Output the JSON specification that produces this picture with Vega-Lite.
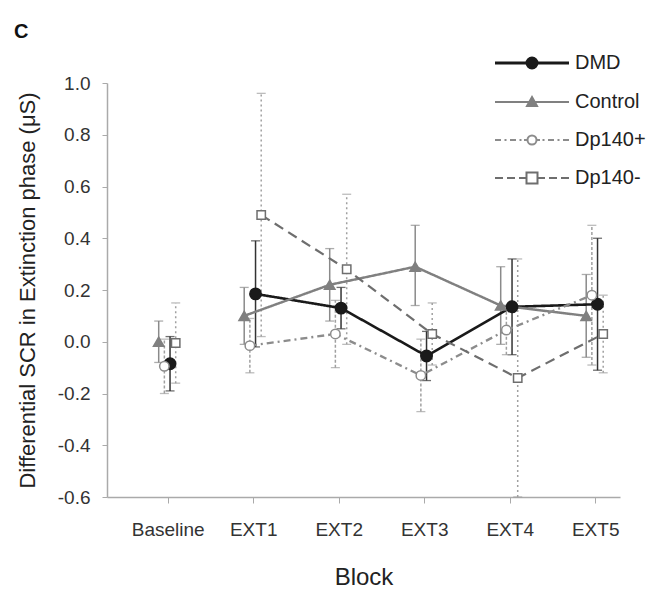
{
  "$schema": "https://vega.github.io/schema/vega-lite/v6.json",
  "width": 513,
  "height": 414,
  "autosize": {"type": "none"},
  "padding": {"left": 107, "top": 83, "right": 33, "bottom": 93},
  "background": "white",
  "title": {"text": "C", "anchor": "start", "frame": "group", "fontSize": 20, "fontWeight": "bold", "font": "Liberation Sans", "color": "#111", "dx": -93, "dy": -7},
  "config": {
    "font": "Liberation Sans",
    "view": {"stroke": null},
    "locale": {"number": {"decimal": ".", "thousands": ",", "grouping": [3], "currency": ["$", ""], "minus": "-"}}
  },
  "data": {
    "values": [
      {"Block": "Baseline", "Group": "DMD", "mean": -0.085, "lo": -0.19, "hi": 0.02},
      {"Block": "EXT1", "Group": "DMD", "mean": 0.185, "lo": -0.02, "hi": 0.39},
      {"Block": "EXT2", "Group": "DMD", "mean": 0.13, "lo": 0.05, "hi": 0.21},
      {"Block": "EXT3", "Group": "DMD", "mean": -0.055, "lo": -0.15, "hi": 0.04},
      {"Block": "EXT4", "Group": "DMD", "mean": 0.135, "lo": -0.05, "hi": 0.32},
      {"Block": "EXT5", "Group": "DMD", "mean": 0.145, "lo": -0.11, "hi": 0.4},
      {"Block": "Baseline", "Group": "Control", "mean": 0.0, "lo": -0.08, "hi": 0.08},
      {"Block": "EXT1", "Group": "Control", "mean": 0.1, "lo": -0.01, "hi": 0.21},
      {"Block": "EXT2", "Group": "Control", "mean": 0.22, "lo": 0.08, "hi": 0.36},
      {"Block": "EXT3", "Group": "Control", "mean": 0.29, "lo": 0.14, "hi": 0.45},
      {"Block": "EXT4", "Group": "Control", "mean": 0.14, "lo": -0.01, "hi": 0.29},
      {"Block": "EXT5", "Group": "Control", "mean": 0.1, "lo": -0.06, "hi": 0.26},
      {"Block": "Baseline", "Group": "Dp140+", "mean": -0.095, "lo": -0.2, "hi": 0.01},
      {"Block": "EXT1", "Group": "Dp140+", "mean": -0.015, "lo": -0.12, "hi": 0.09},
      {"Block": "EXT2", "Group": "Dp140+", "mean": 0.03, "lo": -0.1, "hi": 0.16},
      {"Block": "EXT3", "Group": "Dp140+", "mean": -0.13, "lo": -0.27, "hi": 0.01},
      {"Block": "EXT4", "Group": "Dp140+", "mean": 0.045, "lo": -0.05, "hi": 0.14},
      {"Block": "EXT5", "Group": "Dp140+", "mean": 0.18, "lo": -0.09, "hi": 0.45},
      {"Block": "Baseline", "Group": "Dp140-", "mean": -0.005, "lo": -0.16, "hi": 0.15},
      {"Block": "EXT1", "Group": "Dp140-", "mean": 0.49, "lo": 0.02, "hi": 0.96},
      {"Block": "EXT2", "Group": "Dp140-", "mean": 0.28, "lo": -0.01, "hi": 0.57},
      {"Block": "EXT3", "Group": "Dp140-", "mean": 0.03, "lo": -0.09, "hi": 0.15},
      {"Block": "EXT4", "Group": "Dp140-", "mean": -0.14, "lo": -0.6, "hi": 0.32},
      {"Block": "EXT5", "Group": "Dp140-", "mean": 0.03, "lo": -0.12, "hi": 0.18}
    ]
  },
  "encoding": {
    "x": {
      "field": "Block", "type": "nominal",
      "scale": {"type": "point", "domain": ["Baseline", "EXT1", "EXT2", "EXT3", "EXT4", "EXT5"], "padding": 0.5, "align": 0.71},
      "axis": {"title": "Block", "titleFontSize": 24, "titleFontWeight": "normal", "titleColor": "#222", "titlePadding": 26, "labelFontSize": 19, "labelColor": "#333", "labelAngle": 0, "labelPadding": 17, "tickSize": 6, "tickColor": "#aaa", "domainColor": "#aaa", "domainWidth": 1.5, "grid": false}
    },
    "xOffset": {
      "field": "Group", "type": "nominal",
      "scale": {"type": "point", "domain": ["Control", "Dp140+", "DMD", "Dp140-"], "range": [-9, 8], "padding": 0}
    }
  },
  "layer": [
    {
      "mark": {"type": "rule", "strokeWidth": 1.5},
      "encoding": {
        "y": {"field": "lo", "type": "quantitative",
          "scale": {"domain": [-0.6, 1.0], "nice": false, "zero": false},
          "axis": {"title": "Differential SCR in Extinction phase (μS)", "titleFontSize": 22, "titleFontWeight": "normal", "titleColor": "#222", "titlePadding": 18, "values": [-0.6, -0.4, -0.2, 0.0, 0.2, 0.4, 0.6, 0.8, 1.0], "format": ".1f", "labelFontSize": 19, "labelColor": "#333", "labelPadding": 12, "tickSize": 5, "tickColor": "#aaa", "domainColor": "#aaa", "domainWidth": 1.5, "grid": false}},
        "y2": {"field": "hi"},
        "stroke": {"field": "Group", "type": "nominal", "legend": null,
          "scale": {"domain": ["DMD", "Control", "Dp140+", "Dp140-"], "range": ["#333333", "#8a8a8a", "#a0a0a0", "#a0a0a0"]}},
        "strokeDash": {"field": "Group", "type": "nominal", "legend": null,
          "scale": {"domain": ["DMD", "Control", "Dp140+", "Dp140-"], "range": [[1, 0], [1, 0], [3, 2], [2, 3]]}}
      }
    },
    {
      "mark": {"type": "tick", "size": 9, "thickness": 1.3},
      "encoding": {
        "y": {"field": "lo", "type": "quantitative"},
        "fill": {"field": "Group", "type": "nominal", "legend": null,
          "scale": {"domain": ["DMD", "Control", "Dp140+", "Dp140-"], "range": ["#333333", "#8a8a8a", "#a0a0a0", "#a0a0a0"]}}
      }
    },
    {
      "mark": {"type": "tick", "size": 9, "thickness": 1.3},
      "encoding": {
        "y": {"field": "hi", "type": "quantitative"},
        "fill": {"field": "Group", "type": "nominal", "legend": null,
          "scale": {"domain": ["DMD", "Control", "Dp140+", "Dp140-"], "range": ["#333333", "#8a8a8a", "#a0a0a0", "#a0a0a0"]}}
      }
    },
    {
      "transform": [{"filter": "datum.Block !== 'Baseline'"}],
      "mark": {"type": "line"},
      "encoding": {
        "y": {"field": "mean", "type": "quantitative"},
        "stroke": {"field": "Group", "type": "nominal", "legend": null,
          "scale": {"domain": ["DMD", "Control", "Dp140+", "Dp140-"], "range": ["#1a1a1a", "#808080", "#8c8c8c", "#6e6e6e"]}},
        "strokeDash": {"field": "Group", "type": "nominal", "legend": null,
          "scale": {"domain": ["DMD", "Control", "Dp140+", "Dp140-"], "range": [[1, 0], [1, 0], [7, 4, 2, 4], [10, 6]]}},
        "strokeWidth": {"field": "Group", "type": "nominal", "legend": null,
          "scale": {"domain": ["DMD", "Control", "Dp140+", "Dp140-"], "range": [2.6, 2.2, 1.6, 2.0]}}
      }
    },
    {
      "mark": {"type": "point", "strokeWidth": 1.5, "opacity": 1},
      "encoding": {
        "y": {"field": "mean", "type": "quantitative"},
        "shape": {"field": "Group", "type": "nominal", "legend": null,
          "scale": {"domain": ["DMD", "Control", "Dp140+", "Dp140-"], "range": ["circle", "triangle-up", "circle", "square"]}},
        "size": {"field": "Group", "type": "nominal", "legend": null,
          "scale": {"domain": ["DMD", "Control", "Dp140+", "Dp140-"], "range": [130, 70, 55, 110]}},
        "fill": {"field": "Group", "type": "nominal", "legend": null,
          "scale": {"domain": ["DMD", "Control", "Dp140+", "Dp140-"], "range": ["#1a1a1a", "#808080", "#ffffff", "#ffffff"]}},
        "stroke": {"field": "Group", "type": "nominal", "legend": null,
          "scale": {"domain": ["DMD", "Control", "Dp140+", "Dp140-"], "range": ["#1a1a1a", "#808080", "#8c8c8c", "#6e6e6e"]}}
      }
    },
    {
      "mark": {"type": "point", "filled": true, "opacity": 0, "size": 400, "strokeWidth": 2},
      "encoding": {
        "y": {"field": "mean", "type": "quantitative"},
        "shape": {"field": "Group", "type": "nominal",
          "scale": {"domain": ["DMD", "Control", "Dp140+", "Dp140-"], "range": [
            "M-3.7,0H3.7M0.5,0A0.5,0.5,0,1,1,-0.5,0A0.5,0.5,0,1,1,0.5,0",
            "M-3.7,0H3.7M0,-0.5L0.5,0.4L-0.5,0.4Z",
            "M-3.7,0H-3.1M-2.75,0H-2.55M-2.2,0H-1.6M-1.25,0H-1.05M-0.8,0H-0.45M0.45,0H0.8M1.05,0H1.25M1.6,0H2.2M2.55,0H2.75M3.1,0H3.7M0.45,0A0.45,0.45,0,1,1,-0.45,0A0.45,0.45,0,1,1,0.45,0",
            "M-3.7,0H-2.9M-2.5,0H-1.7M-1.3,0H-0.55M0.55,0H1.3M1.7,0H2.5M2.9,0H3.7M-0.55,-0.55H0.55V0.55H-0.55Z"
          ]},
          "legend": {"title": null, "orient": "none", "legendX": 415, "legendY": -30, "labelFontSize": 20, "labelColor": "#222", "labelOffset": 33, "rowPadding": 18, "symbolStrokeWidth": 2, "symbolSize": 400,
            "encode": {"symbols": {"update": {
              "fill": {"signal": "datum.value === 'DMD' ? '#1a1a1a' : datum.value === 'Control' ? '#808080' : '#ffffff'"},
              "stroke": {"signal": "datum.value === 'DMD' ? '#1a1a1a' : datum.value === 'Control' ? '#808080' : datum.value === 'Dp140+' ? '#8c8c8c' : '#6e6e6e'"},
              "strokeWidth": {"signal": "datum.value === 'DMD' ? 3 : 2"},
              "fillOpacity": {"value": 1},
              "opacity": {"value": 1}
            }}}}},
        "fill": {"field": "Group", "type": "nominal",
          "scale": {"domain": ["DMD", "Control", "Dp140+", "Dp140-"], "range": ["#1a1a1a", "#808080", "#ffffff", "#ffffff"]},
          "legend": {"title": null, "orient": "none", "legendX": 415, "legendY": -30, "labelFontSize": 20, "labelColor": "#222", "labelOffset": 33, "rowPadding": 18, "symbolStrokeWidth": 2, "symbolSize": 400,
            "encode": {"symbols": {"update": {
              "fill": {"signal": "datum.value === 'DMD' ? '#1a1a1a' : datum.value === 'Control' ? '#808080' : '#ffffff'"},
              "stroke": {"signal": "datum.value === 'DMD' ? '#1a1a1a' : datum.value === 'Control' ? '#808080' : datum.value === 'Dp140+' ? '#8c8c8c' : '#6e6e6e'"},
              "strokeWidth": {"signal": "datum.value === 'DMD' ? 3 : 2"},
              "fillOpacity": {"value": 1},
              "opacity": {"value": 1}
            }}}}},
        "stroke": {"field": "Group", "type": "nominal",
          "scale": {"domain": ["DMD", "Control", "Dp140+", "Dp140-"], "range": ["#1a1a1a", "#808080", "#8c8c8c", "#6e6e6e"]},
          "legend": {"title": null, "orient": "none", "legendX": 415, "legendY": -30, "labelFontSize": 20, "labelColor": "#222", "labelOffset": 33, "rowPadding": 18, "symbolStrokeWidth": 2, "symbolSize": 400,
            "encode": {"symbols": {"update": {
              "fill": {"signal": "datum.value === 'DMD' ? '#1a1a1a' : datum.value === 'Control' ? '#808080' : '#ffffff'"},
              "stroke": {"signal": "datum.value === 'DMD' ? '#1a1a1a' : datum.value === 'Control' ? '#808080' : datum.value === 'Dp140+' ? '#8c8c8c' : '#6e6e6e'"},
              "strokeWidth": {"signal": "datum.value === 'DMD' ? 3 : 2"},
              "fillOpacity": {"value": 1},
              "opacity": {"value": 1}
            }}}}}
      }
    }
  ],
  "resolve": {
    "scale": {"fill": "independent", "stroke": "independent", "shape": "independent", "strokeDash": "independent", "size": "independent", "strokeWidth": "independent"},
    "legend": {"fill": "independent", "stroke": "independent", "shape": "independent"}
  }
}
